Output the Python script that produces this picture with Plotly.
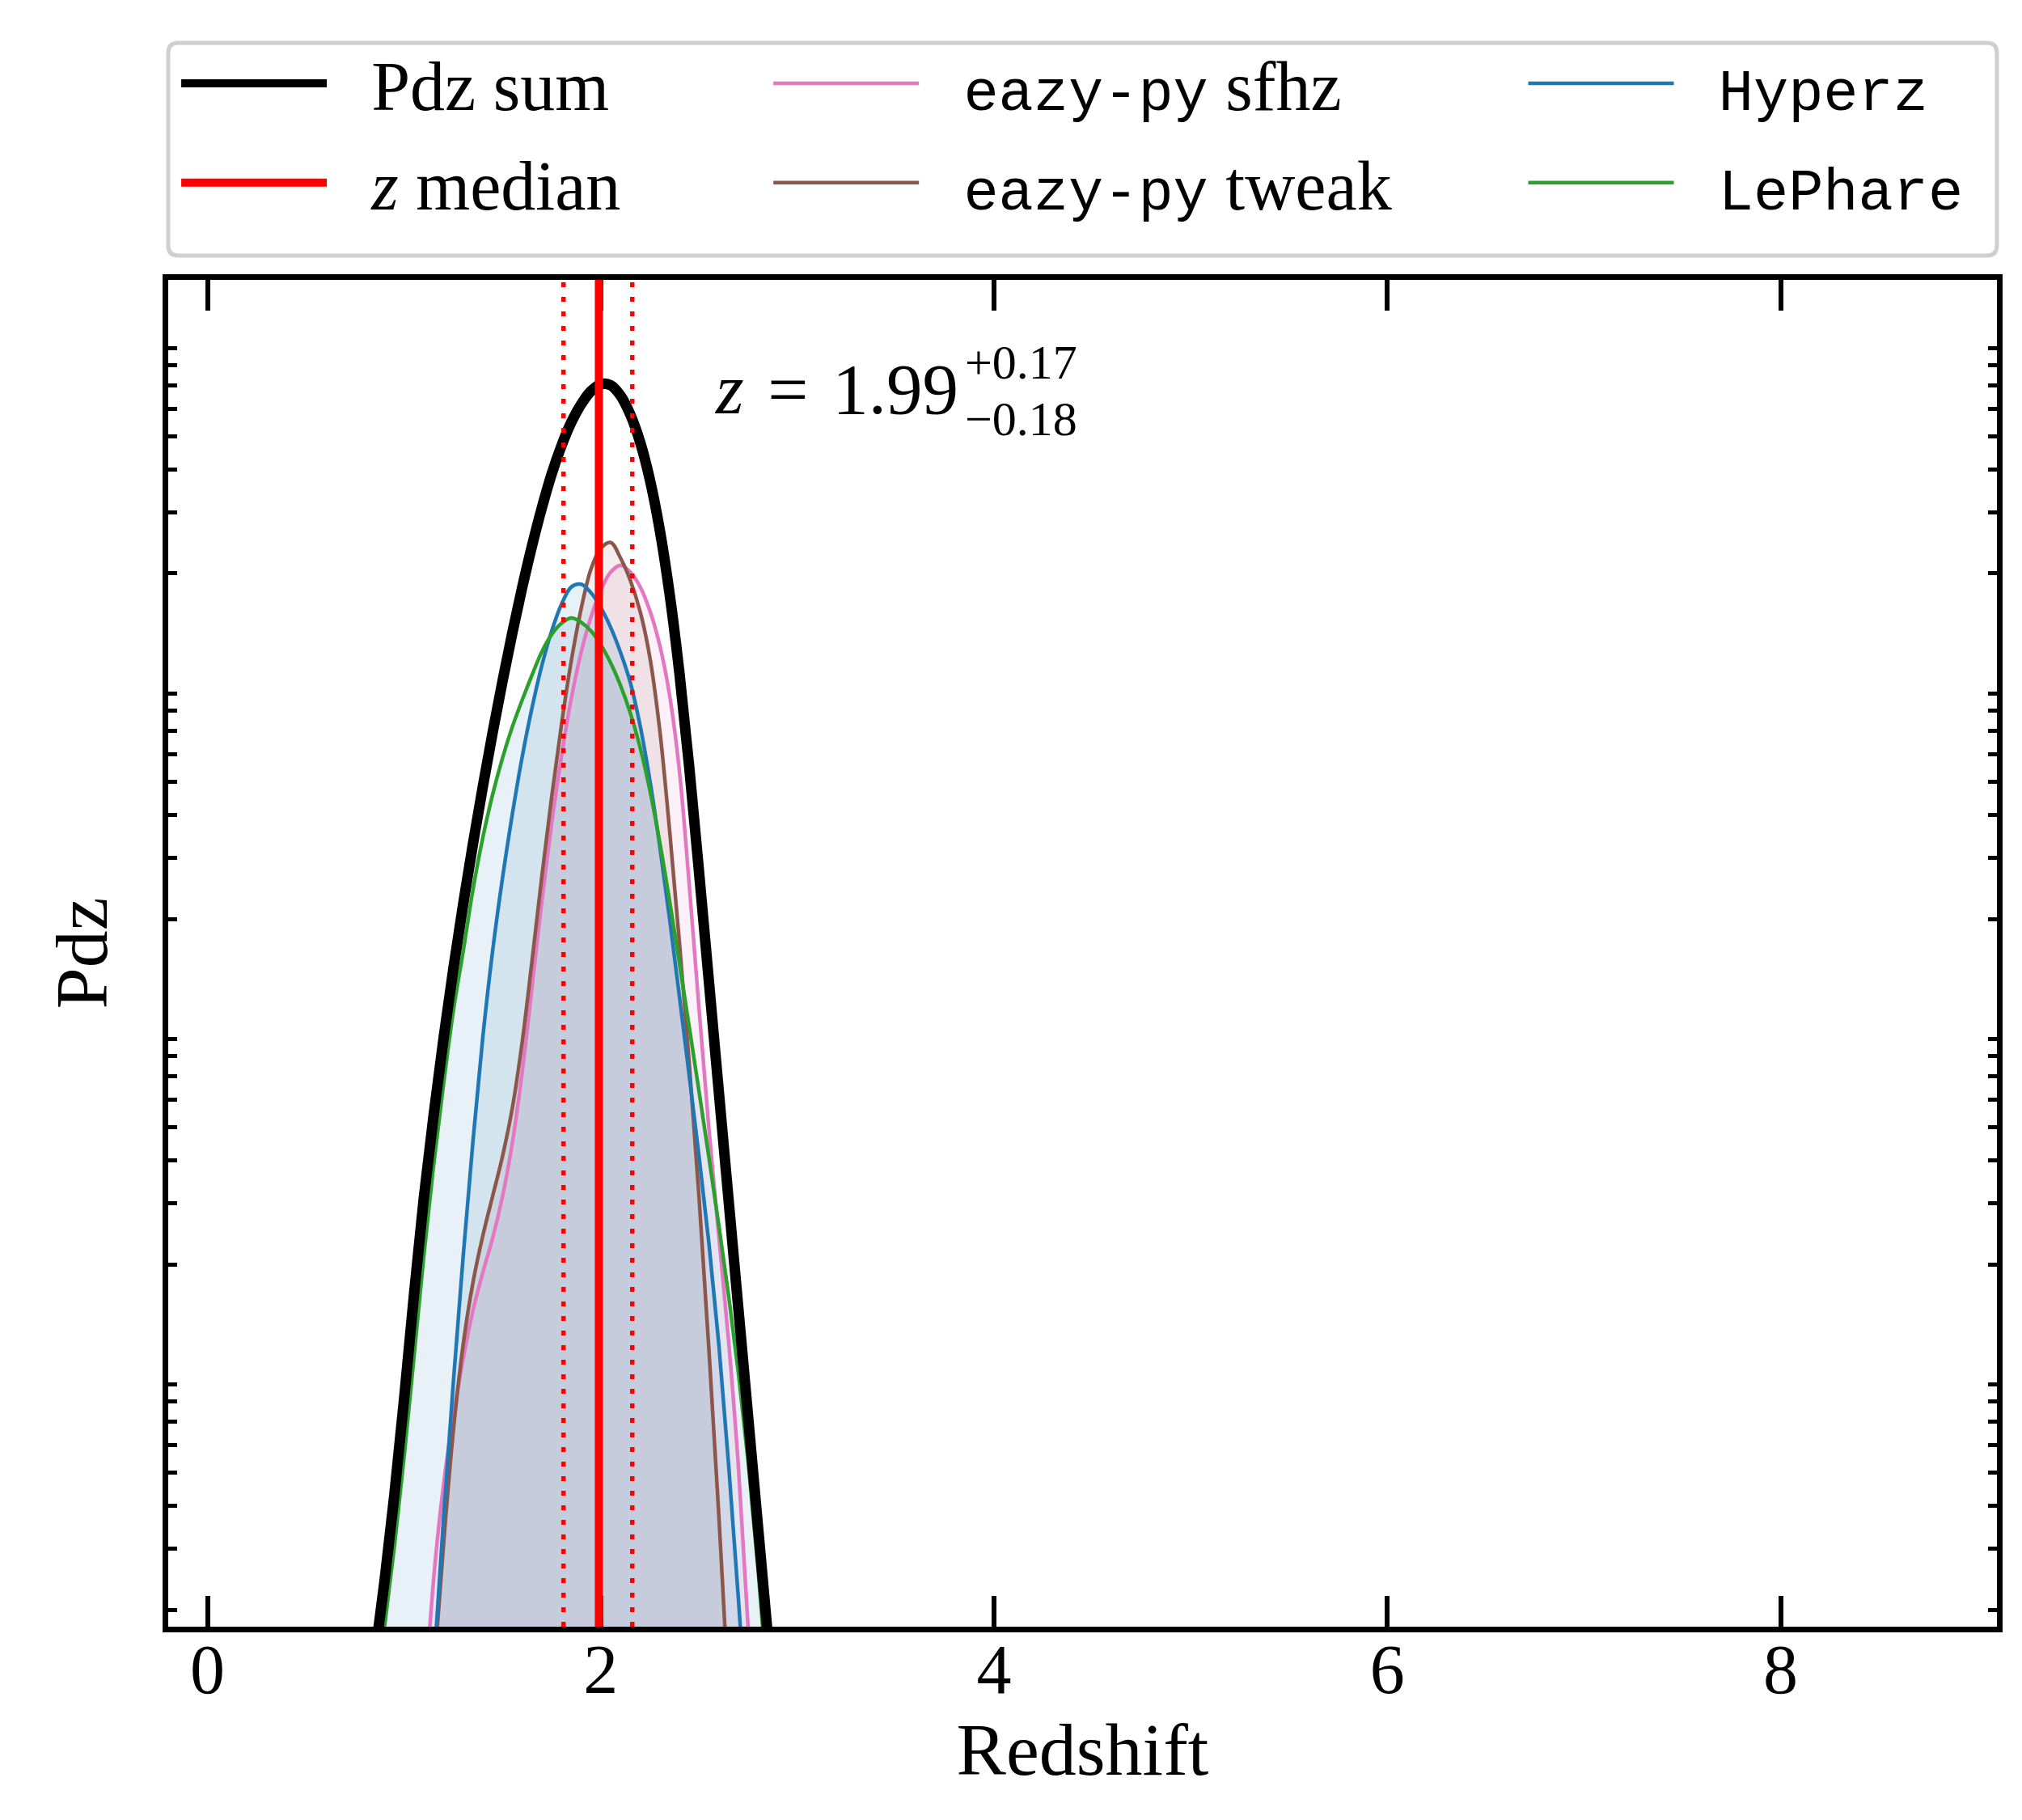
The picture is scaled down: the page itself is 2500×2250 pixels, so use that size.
import plotly.graph_objects as go

# Pdz curves on a 0.05 redshift grid (log y axis, arbitrary units)
z_sum = [0.80, 0.85, 0.90, 0.95, 1.00, 1.05, 1.10, 1.15, 1.20, 1.25,
         1.30, 1.35, 1.40, 1.45, 1.50, 1.55, 1.60, 1.65, 1.70, 1.75,
         1.80, 1.85, 1.90, 1.95, 2.00, 2.05, 2.10, 2.15, 2.20, 2.25,
         2.30, 2.35, 2.40, 2.45, 2.50, 2.55, 2.60, 2.65, 2.70, 2.75,
         2.80, 2.85, 2.90]
pdz_sum = [9.0e-5, 1.459e-4, 2.421e-4, 4.305e-4, 8.204e-4, 1.637e-3, 3.119e-3, 5.420e-3, 8.995e-3, 1.435e-2,
           2.208e-2, 3.304e-2, 4.831e-2, 6.934e-2, 9.750e-2, 0.1346, 0.1820, 0.2404, 0.3097, 0.3882,
           0.4688, 0.5483, 0.6180, 0.6745, 0.7063, 0.7015, 0.6546, 0.5768, 0.4797, 0.3724,
           0.2667, 0.1742, 0.1026, 5.470e-2, 2.710e-2, 1.309e-2, 6.324e-3, 3.055e-3, 1.476e-3, 7.129e-4,
           3.443e-4, 1.663e-4, 8.035e-5]

z_hyperz = [1.10, 1.15, 1.20, 1.25, 1.30, 1.35, 1.40, 1.45, 1.50, 1.55,
            1.60, 1.65, 1.70, 1.75, 1.80, 1.85, 1.90, 1.95, 2.00, 2.05,
            2.10, 2.15, 2.20, 2.25, 2.30, 2.35, 2.40, 2.45, 2.50, 2.55,
            2.60, 2.65, 2.70, 2.75]
pdz_hyperz = [4.677e-5, 1.363e-4, 3.668e-4, 9.110e-4, 2.111e-3, 4.565e-3, 9.110e-3, 1.620e-2, 2.627e-2, 4.022e-2,
              5.884e-2, 8.166e-2, 0.1083, 0.1363, 0.1629, 0.1828, 0.1862, 0.1758, 0.1594, 0.1396,
              0.1182, 9.661e-2, 7.244e-2, 5.012e-2, 3.236e-2, 1.995e-2, 1.189e-2, 6.998e-3, 4.074e-3, 2.291e-3,
              1.175e-3, 5.248e-4, 2.138e-4, 8.128e-5]

z_lephare = [0.85, 0.90, 0.95, 1.00, 1.05, 1.10, 1.15, 1.20, 1.25, 1.30,
             1.35, 1.40, 1.45, 1.50, 1.55, 1.60, 1.65, 1.70, 1.75, 1.80,
             1.85, 1.90, 1.95, 2.00, 2.05, 2.10, 2.15, 2.20, 2.25, 2.30,
             2.35, 2.40, 2.45, 2.50, 2.55, 2.60, 2.65, 2.70, 2.75, 2.80,
             2.85]
pdz_lephare = [1.096e-4, 1.786e-4, 3.048e-4, 5.572e-4, 1.081e-3, 2.118e-3, 3.890e-3, 6.637e-3, 1.084e-2, 1.611e-2,
               2.438e-2, 3.443e-2, 4.592e-2, 5.848e-2, 7.194e-2, 8.600e-2, 0.1016, 0.1187, 0.1332, 0.1435,
               0.1486, 0.1444, 0.1363, 0.1243, 0.1102, 9.484e-2, 7.889e-2, 6.266e-2, 4.699e-2, 3.327e-2,
               2.249e-2, 1.486e-2, 9.705e-3, 6.303e-3, 4.069e-3, 2.597e-3, 1.620e-3, 9.649e-4, 5.303e-4, 2.597e-4,
               1.095e-4]

z_tweak = [1.10, 1.15, 1.20, 1.25, 1.30, 1.35, 1.40, 1.45, 1.50, 1.55,
           1.60, 1.65, 1.70, 1.75, 1.80, 1.85, 1.90, 1.95, 2.00, 2.05,
           2.10, 2.15, 2.20, 2.25, 2.30, 2.35, 2.40, 2.45, 2.50, 2.55,
           2.60, 2.65]
pdz_tweak = [5.129e-5, 1.285e-4, 3.083e-4, 6.592e-4, 1.172e-3, 1.774e-3, 2.421e-3, 3.155e-3, 4.111e-3, 5.675e-3,
             8.790e-3, 1.510e-2, 2.655e-2, 4.508e-2, 7.311e-2, 0.1119, 0.1581, 0.2061, 0.2366, 0.2460,
             0.2218, 0.1910, 0.1552, 0.1138, 7.015e-2, 3.597e-2, 1.702e-2, 7.603e-3, 3.097e-3, 1.125e-3,
             3.767e-4, 1.125e-4]

z_sfhz = [1.10, 1.15, 1.20, 1.25, 1.30, 1.35, 1.40, 1.45, 1.50, 1.55,
          1.60, 1.65, 1.70, 1.75, 1.80, 1.85, 1.90, 1.95, 2.00, 2.05,
          2.10, 2.15, 2.20, 2.25, 2.30, 2.35, 2.40, 2.45, 2.50, 2.55,
          2.60, 2.65, 2.70, 2.75, 2.80]
pdz_sfhz = [9.829e-5, 2.469e-4, 4.597e-4, 7.286e-4, 1.065e-3, 1.471e-3, 1.895e-3, 2.385e-3, 3.144e-3, 4.493e-3,
            7.202e-3, 1.266e-2, 2.251e-2, 3.780e-2, 5.922e-2, 8.710e-2, 0.1182, 0.1496, 0.1788, 0.2018,
            0.2113, 0.2018, 0.1830, 0.1557, 0.1237, 8.861e-2, 5.339e-2, 2.497e-2, 1.090e-2, 4.926e-3,
            2.413e-3, 1.195e-3, 5.158e-4, 1.728e-4, 5.248e-5]

z_median = 1.99
z_err_lo = 0.18
z_err_hi = 0.17

x_ticks = [0, 2, 4, 6, 8]
y_ticks = [2e-4, 3e-4, 4e-4, 5e-4, 6e-4, 7e-4, 8e-4, 9e-4,
           2e-3, 3e-3, 4e-3, 5e-3, 6e-3, 7e-3, 8e-3, 9e-3,
           2e-2, 3e-2, 4e-2, 5e-2, 6e-2, 7e-2, 8e-2, 9e-2,
           0.2, 0.3, 0.4, 0.5, 0.6, 0.7, 0.8, 0.9]

SERIF = "Liberation Serif"
MONO = "Liberation Mono"
GAP = "\u2002\u200a"  # space between legend line and its label


def mono(s):
    return '<span style="font-family:%s;font-size:72px">%s</span>' % (MONO, s)


def big(s):
    return '<span style="font-size:60px">%s</span>' % s


codes = [
    # name, z, pdz, line colour, fill colour, legend
    (mono("eazy-py") + " sfhz", z_sfhz, pdz_sfhz, "#e377c2", "rgba(227,119,194,0.1)", "legend2"),
    (mono("eazy-py") + " tweak", z_tweak, pdz_tweak, "#8c564b", "rgba(140,86,75,0.1)", "legend2"),
    (mono("Hyperz"), z_hyperz, pdz_hyperz, "#1f77b4", "rgba(31,119,180,0.1)", "legend3"),
    (mono("LePhare"), z_lephare, pdz_lephare, "#2ca02c", "rgba(31,119,180,0.1)", "legend3"),
]

fig = go.Figure()

# shaded areas first
for name, zz, pp, col, fcol, leg in codes:
    fig.add_trace(go.Scatter(x=zz, y=pp, mode="lines", line=dict(width=0, shape="spline"),
                             fill="toself", fillcolor=fcol, showlegend=False, hoverinfo="skip"))

for i, (name, zz, pp, col, fcol, leg) in enumerate(codes):
    fig.add_trace(go.Scatter(x=zz, y=pp, mode="lines", name=GAP + name, legend=leg,
                             legendgroup="g%d" % i,
                             line=dict(color=col, width=4.5, shape="spline")))

fig.add_trace(go.Scatter(x=z_sum, y=pdz_sum, mode="lines", name=GAP + "Pdz sum", legend="legend",
                         legendgroup="sum", line=dict(color="black", width=13, shape="spline")))

# legend entry for the median lines (drawn as shapes below)
fig.add_trace(go.Scatter(x=[None], y=[None], mode="lines", name=GAP + "<i>z</i> median",
                         legend="legend", legendgroup="med", line=dict(color="red", width=10)))

fig.add_vline(x=z_median, line=dict(color="red", width=10))
fig.add_vline(x=z_median - z_err_lo, line=dict(color="red", width=5.5, dash="6px,12px"))
fig.add_vline(x=z_median + z_err_hi, line=dict(color="red", width=5.5, dash="6px,12px"))

fig.add_annotation(x=3.827, y=0.919, xref="x", yref="paper", xanchor="right", yanchor="middle",
                   text="<i>z</i>\u2004=\u2004%.2f" % z_median, showarrow=False,
                   font=dict(family=SERIF, size=89, color="black"))
# stacked errors: small base size keeps the two lines close, glyphs enlarged via span
fig.add_annotation(x=3.845, y=0.9175, xref="x", yref="paper", xanchor="left", yanchor="middle",
                   text=big("+%.2f" % z_err_hi) + "<br>" + big("\u2212%.2f" % z_err_lo),
                   showarrow=False, font=dict(family=SERIF, size=54, color="black"))

# rounded frame around the three legend columns
x0, x1, y0, y1 = 0.0, 1.0, 1.018, 1.176
rx, ry = 0.0055, 0.0075
frame = ("M %f,%f L %f,%f Q %f,%f %f,%f L %f,%f Q %f,%f %f,%f L %f,%f Q %f,%f %f,%f L %f,%f Q %f,%f %f,%f Z"
         % (x0 + rx, y0, x1 - rx, y0, x1, y0, x1, y0 + ry, x1, y1 - ry, x1, y1, x1 - rx, y1,
            x0 + rx, y1, x0, y1, x0, y1 - ry, x0, y0 + ry, x0, y0, x0 + rx, y0))
fig.add_shape(type="path", path=frame, xref="paper", yref="paper",
              line=dict(color="#cfcfcf", width=5), fillcolor="rgba(0,0,0,0)")

leg_common = dict(orientation="v", yanchor="middle", y=1.109, xanchor="left",
                  bgcolor="rgba(0,0,0,0)", borderwidth=0, itemwidth=180,
                  traceorder="grouped", tracegroupgap=8,
                  font=dict(family=SERIF, size=86, color="black"))

fig.update_layout(
    width=2500, height=2250,
    margin=dict(l=200, r=39, t=338, b=247),
    paper_bgcolor="white", plot_bgcolor="white",
    font=dict(family=SERIF, size=86, color="black"),
    legend=dict(x=0.0049, **leg_common),
    legend2=dict(x=0.3287, **leg_common),
    legend3=dict(x=0.7415, **leg_common),
    xaxis=dict(range=[-0.2, 9.1], tickvals=x_ticks, ticks="inside", ticklen=38, tickwidth=6,
               tickcolor="black", mirror="ticks", showline=True, linewidth=7, linecolor="black",
               showgrid=False, zeroline=False, tickfont=dict(family=SERIF, size=86),
               ticklabelstandoff=-28,
               title=dict(text="Redshift", font=dict(family=SERIF, size=92), standoff=14)),
    yaxis=dict(type="log", range=[-3.748, 0.151], tickvals=y_ticks, ticks="inside", ticklen=11,
               tickwidth=5, tickcolor="black", mirror="ticks", showline=True, linewidth=7,
               linecolor="black", showgrid=False, zeroline=False, showticklabels=False,
               title=dict(text="Pdz", font=dict(family=SERIF, size=92), standoff=40)),
)

fig.write_html("out.html")
